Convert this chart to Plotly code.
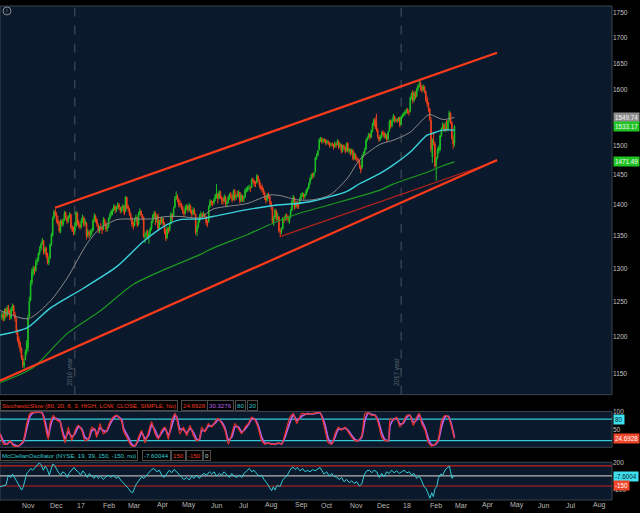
import math
import plotly.graph_objects as go

# ---------------- price data (daily, index 0 = first bar) ----------------
opens = [
    # Oct 2016
    1228, 1233, 1225, 1239, 1231, 1242, 1237, 1227, 1241, 1245, 1232, 1225, 1207, 1197,
    # Nov
    1191, 1184, 1171, 1161, 1170, 1181, 1185, 1230, 1253, 1279, 1294, 1299, 1297, 1311, 1313, 1323, 1331, 1338, 1342, 1326, 1331,
    # Dec
    1321, 1309, 1316, 1337, 1351, 1379, 1389, 1384, 1375, 1371, 1357, 1373, 1368, 1375, 1387, 1379, 1374, 1381, 1384, 1363, 1361,
    # Jan 2017
    1358, 1366, 1386, 1372, 1367, 1365, 1375, 1379, 1369, 1370, 1351, 1356, 1353, 1355, 1359, 1375, 1381, 1376, 1368, 1361,
    # Feb
    1364, 1362, 1361, 1375, 1370, 1362, 1365, 1378, 1385, 1388, 1392, 1397, 1391, 1396, 1400, 1395, 1390, 1395, 1397,
    # Mar
    1390, 1412, 1397, 1393, 1385, 1377, 1370, 1367, 1376, 1379, 1369, 1386, 1389, 1382, 1379, 1349, 1352, 1356, 1350, 1355, 1362, 1373, 1381,
    # Apr
    1387, 1375, 1382, 1363, 1374, 1371, 1377, 1369, 1358, 1348, 1361, 1360, 1370, 1384, 1382, 1396, 1411, 1413, 1407,
    # May
    1401, 1401, 1396, 1389, 1387, 1395, 1398, 1391, 1398, 1389, 1386, 1391, 1384, 1357, 1365, 1374, 1382, 1384, 1384, 1383, 1381, 1372,
    # Jun
    1373, 1398, 1405, 1403, 1403, 1409, 1417, 1417, 1411, 1420, 1412, 1409, 1407, 1412, 1402, 1405, 1411, 1417, 1414, 1409, 1423, 1412,
    # Jul
    1417, 1415, 1420, 1407, 1414, 1409, 1413, 1425, 1424, 1429, 1428, 1429, 1442, 1439, 1436, 1437, 1447, 1440, 1431, 1430,
    # Aug
    1426, 1420, 1412, 1408, 1414, 1413, 1403, 1395, 1373, 1380, 1390, 1379, 1380, 1357, 1358, 1362, 1377, 1378, 1382, 1379, 1372, 1380, 1391,
    # Sep
    1406, 1411, 1397, 1404, 1399, 1402, 1410, 1418, 1417, 1414, 1417, 1424, 1428, 1436, 1444, 1451, 1449, 1455, 1479, 1484,
    # Oct
    1493, 1511, 1512, 1508, 1509, 1510, 1505, 1506, 1504, 1501, 1503, 1501, 1498, 1503, 1502, 1507, 1498, 1501, 1491, 1499, 1496, 1491,
    # Nov
    1503, 1490, 1492, 1487, 1491, 1478, 1484, 1477, 1476, 1473, 1463, 1462, 1482, 1487, 1494, 1510, 1514, 1520, 1515, 1526, 1538,
    # Dec
    1546, 1540, 1527, 1515, 1511, 1515, 1523, 1521, 1516, 1518, 1511, 1526, 1543, 1535, 1545, 1551, 1544, 1546, 1545, 1549,
    # Jan 2018
    1537, 1551, 1554, 1557, 1561, 1564, 1560, 1561, 1586, 1595, 1581, 1595, 1589, 1602, 1610, 1612, 1605, 1601, 1606, 1597, 1583,
    # Feb
    1576, 1565, 1544, 1480, 1508, 1502, 1466, 1479, 1491, 1494, 1518, 1531, 1536, 1529, 1531, 1528, 1544, 1557, 1540,
    # Mar
    1511, 1504,
]
highs = [
    1236, 1237, 1241, 1242, 1245, 1246, 1239, 1243, 1248, 1246, 1236, 1228, 1211, 1201,
    1194, 1186, 1175, 1170, 1183, 1196, 1232, 1258, 1282, 1300, 1304, 1303, 1314, 1317, 1325, 1334, 1340, 1347, 1344, 1334, 1333,
    1324, 1318, 1339, 1355, 1381, 1392, 1393, 1388, 1382, 1374, 1376, 1377, 1378, 1390, 1389, 1382, 1383, 1388, 1386, 1367, 1365,
    1372, 1390, 1388, 1375, 1370, 1378, 1384, 1381, 1377, 1372, 1361, 1359, 1360, 1362, 1377, 1386, 1384, 1378, 1370, 1366,
    1370, 1365, 1380, 1378, 1372, 1368, 1380, 1387, 1392, 1394, 1401, 1399, 1398, 1404, 1403, 1397, 1397, 1401, 1399,
    1414, 1413, 1400, 1395, 1388, 1380, 1373, 1379, 1384, 1381, 1388, 1394, 1391, 1385, 1381, 1356, 1359, 1360, 1358, 1364, 1375, 1385, 1390,
    1389, 1384, 1386, 1376, 1379, 1381, 1379, 1372, 1361, 1365, 1364, 1371, 1388, 1386, 1397, 1414, 1422, 1417, 1410,
    1407, 1403, 1399, 1393, 1399, 1401, 1400, 1403, 1400, 1392, 1396, 1394, 1386, 1368, 1377, 1385, 1389, 1387, 1389, 1386, 1382, 1375,
    1399, 1409, 1408, 1406, 1411, 1418, 1434, 1419, 1424, 1423, 1414, 1412, 1417, 1415, 1407, 1415, 1419, 1421, 1417, 1425, 1426, 1418,
    1423, 1424, 1421, 1418, 1416, 1415, 1427, 1429, 1431, 1433, 1430, 1444, 1445, 1441, 1439, 1451, 1449, 1442, 1436, 1433,
    1428, 1422, 1415, 1419, 1420, 1416, 1406, 1397, 1382, 1394, 1392, 1387, 1382, 1362, 1364, 1380, 1381, 1385, 1386, 1383, 1382, 1393, 1408,
    1416, 1413, 1406, 1406, 1403, 1412, 1419, 1421, 1419, 1419, 1426, 1429, 1437, 1446, 1452, 1453, 1455, 1480, 1486, 1492,
    1513, 1515, 1514, 1513, 1512, 1511, 1510, 1509, 1506, 1505, 1505, 1503, 1507, 1505, 1511, 1509, 1505, 1503, 1501, 1502, 1498, 1505,
    1506, 1496, 1494, 1495, 1493, 1488, 1486, 1481, 1478, 1475, 1466, 1484, 1489, 1496, 1512, 1516, 1522, 1521, 1528, 1540, 1548,
    1550, 1556, 1530, 1518, 1518, 1525, 1527, 1524, 1522, 1520, 1526, 1546, 1545, 1548, 1556, 1553, 1549, 1548, 1551, 1551,
    1553, 1557, 1559, 1563, 1566, 1567, 1563, 1588, 1596, 1600, 1597, 1598, 1604, 1611, 1618, 1616, 1609, 1610, 1608, 1599, 1588,
    1578, 1567, 1550, 1512, 1524, 1506, 1480, 1496, 1500, 1519, 1532, 1541, 1539, 1541, 1545, 1545, 1562, 1559, 1543,
    1518, 1536,
]
lows = [
    1224, 1222, 1223, 1227, 1229, 1233, 1224, 1225, 1237, 1230, 1222, 1204, 1193, 1186,
    1179, 1169, 1158, 1157, 1168, 1176, 1180, 1228, 1251, 1275, 1288, 1291, 1295, 1305, 1310, 1320, 1327, 1336, 1321, 1322, 1316,
    1306, 1305, 1314, 1334, 1349, 1376, 1381, 1370, 1366, 1355, 1354, 1365, 1365, 1373, 1376, 1369, 1371, 1378, 1361, 1356, 1351,
    1352, 1364, 1367, 1363, 1360, 1362, 1371, 1364, 1366, 1345, 1348, 1346, 1348, 1351, 1357, 1372, 1371, 1365, 1355, 1354,
    1358, 1353, 1359, 1367, 1356, 1357, 1363, 1375, 1381, 1383, 1389, 1386, 1388, 1393, 1391, 1386, 1387, 1390, 1383,
    1388, 1393, 1389, 1382, 1374, 1364, 1360, 1365, 1373, 1364, 1366, 1383, 1380, 1375, 1347, 1339, 1347, 1345, 1338, 1351, 1359, 1370, 1378,
    1367, 1371, 1359, 1360, 1368, 1368, 1366, 1353, 1342, 1345, 1354, 1357, 1368, 1374, 1380, 1394, 1408, 1404, 1396,
    1395, 1392, 1385, 1380, 1384, 1391, 1387, 1389, 1386, 1380, 1383, 1383, 1352, 1350, 1362, 1371, 1379, 1378, 1380, 1377, 1367, 1364,
    1371, 1395, 1399, 1397, 1400, 1406, 1410, 1402, 1409, 1409, 1401, 1400, 1404, 1398, 1396, 1402, 1408, 1410, 1404, 1407, 1406, 1408,
    1413, 1411, 1402, 1404, 1405, 1404, 1411, 1420, 1421, 1424, 1421, 1427, 1435, 1430, 1429, 1435, 1437, 1427, 1424, 1420,
    1416, 1408, 1402, 1405, 1410, 1400, 1392, 1369, 1366, 1377, 1374, 1375, 1355, 1349, 1353, 1360, 1371, 1374, 1375, 1372, 1369, 1378, 1389,
    1403, 1392, 1394, 1394, 1393, 1400, 1407, 1413, 1409, 1410, 1415, 1420, 1425, 1433, 1441, 1443, 1445, 1453, 1475, 1481,
    1491, 1506, 1503, 1504, 1505, 1500, 1502, 1501, 1496, 1498, 1498, 1493, 1496, 1496, 1500, 1493, 1495, 1486, 1488, 1493, 1486, 1489,
    1488, 1486, 1482, 1484, 1474, 1475, 1474, 1472, 1469, 1460, 1452, 1460, 1479, 1484, 1492, 1507, 1512, 1510, 1513, 1523, 1535,
    1529, 1524, 1512, 1506, 1508, 1512, 1517, 1512, 1512, 1506, 1509, 1524, 1530, 1532, 1542, 1540, 1541, 1540, 1542, 1532,
    1535, 1548, 1551, 1553, 1557, 1556, 1553, 1559, 1582, 1575, 1578, 1583, 1586, 1598, 1605, 1598, 1595, 1597, 1594, 1578, 1570,
    1560, 1543, 1488, 1470, 1500, 1462, 1440, 1476, 1486, 1490, 1515, 1528, 1524, 1524, 1525, 1526, 1542, 1538, 1510,
    1494, 1498,
]
closes = [
    1232, 1226, 1238, 1230, 1241, 1236, 1228, 1240, 1244, 1233, 1226, 1208, 1196, 1190,
    1183, 1172, 1162, 1165, 1180, 1192, 1228, 1252, 1278, 1295, 1300, 1298, 1310, 1312, 1322, 1330, 1337, 1343, 1325, 1330, 1320,
    1310, 1314, 1336, 1352, 1378, 1388, 1385, 1374, 1370, 1358, 1372, 1369, 1374, 1386, 1380, 1373, 1380, 1383, 1364, 1360, 1356,
    1365, 1387, 1371, 1368, 1364, 1374, 1380, 1368, 1372, 1350, 1357, 1352, 1354, 1358, 1374, 1382, 1375, 1369, 1360, 1362,
    1363, 1360, 1376, 1371, 1361, 1364, 1377, 1384, 1389, 1391, 1398, 1392, 1395, 1401, 1396, 1391, 1394, 1398, 1386,
    1413, 1396, 1394, 1386, 1378, 1369, 1366, 1375, 1380, 1368, 1385, 1390, 1383, 1378, 1350, 1351, 1355, 1353, 1354, 1361, 1372, 1382, 1386,
    1376, 1381, 1362, 1373, 1372, 1378, 1370, 1357, 1346, 1362, 1359, 1368, 1385, 1379, 1394, 1410, 1414, 1408, 1400,
    1400, 1397, 1390, 1386, 1396, 1397, 1392, 1399, 1390, 1385, 1392, 1387, 1356, 1364, 1373, 1381, 1385, 1383, 1384, 1382, 1371, 1370,
    1397, 1406, 1404, 1402, 1408, 1415, 1418, 1410, 1421, 1413, 1408, 1406, 1413, 1401, 1404, 1412, 1416, 1415, 1408, 1422, 1411, 1415,
    1416, 1421, 1406, 1415, 1410, 1411, 1424, 1425, 1428, 1429, 1428, 1441, 1440, 1435, 1434, 1448, 1441, 1432, 1429, 1425,
    1421, 1413, 1407, 1415, 1414, 1404, 1397, 1372, 1378, 1391, 1378, 1381, 1358, 1357, 1360, 1378, 1377, 1381, 1380, 1378, 1379, 1390, 1405,
    1413, 1396, 1403, 1398, 1397, 1409, 1417, 1418, 1413, 1416, 1423, 1427, 1435, 1443, 1450, 1448, 1452, 1478, 1483, 1490,
    1510, 1511, 1507, 1510, 1509, 1504, 1507, 1505, 1500, 1502, 1502, 1497, 1504, 1501, 1508, 1497, 1502, 1490, 1498, 1497, 1490, 1502,
    1491, 1493, 1486, 1492, 1477, 1485, 1478, 1477, 1474, 1464, 1458, 1481, 1486, 1493, 1509, 1513, 1519, 1514, 1525, 1537, 1545,
    1533, 1528, 1516, 1510, 1514, 1522, 1520, 1515, 1517, 1510, 1523, 1542, 1534, 1544, 1552, 1543, 1545, 1544, 1548, 1535,
    1550, 1553, 1556, 1560, 1563, 1561, 1559, 1585, 1592, 1580, 1594, 1588, 1601, 1608, 1610, 1604, 1600, 1607, 1598, 1582, 1575,
    1566, 1547, 1494, 1510, 1503, 1464, 1477, 1492, 1496, 1517, 1530, 1537, 1528, 1530, 1527, 1543, 1558, 1539, 1512,
    1503, 1533.17,
]

# ---------------- moving averages (read at sample points) ----------------
ma_gray_x = [-1.5, 20, 36.9, 50, 65.4, 75.4, 88.5, 100.8, 113.8, 126.9, 137, 152.3, 162.3, 188.5,
             206.2, 213.8, 227, 239.2, 252.3, 265.4, 275.4, 290.8, 300.8, 313.8, 326.9, 329.2, 339.2, 348]
ma_gray_y = [1238, 1226, 1251, 1285, 1338, 1362, 1376, 1377, 1377, 1381, 1381, 1379, 1393, 1402,
             1416, 1415, 1408, 1408, 1416, 1443, 1476, 1502, 1509, 1523, 1553, 1555, 1546, 1549.74]
ma_cyan_x = [-1.5, 19.2, 36.9, 62.3, 88.5, 108.5, 126.9, 137, 152.3, 162.3, 188.5, 206.2, 213.8, 227,
             239.2, 265.4, 275.4, 290.8, 300.8, 313.8, 326.9, 330.8, 339.2, 348]
ma_cyan_y = [1203, 1213, 1241, 1270, 1303, 1341, 1368, 1376, 1377, 1381, 1392, 1398, 1400, 1402,
             1406, 1422, 1435, 1452, 1466, 1488, 1518, 1521, 1527, 1527]
ma_green_x = [-1.5, 23.8, 50, 75.4, 100.8, 126.9, 152.3, 162.3, 188.5, 211.5, 227, 252.3, 265.4,
              290.8, 300.8, 326.9, 339.2, 348]
ma_green_y = [1138, 1158, 1205, 1237, 1276, 1300, 1321, 1331, 1352, 1373, 1385, 1400, 1408,
              1424, 1434, 1454, 1465, 1471.49]

# ---------------- trend lines (end points) ----------------
chan_upper_x = [40.8, 380.8]
chan_upper_y = [1395, 1671]
chan_lower_x = [-1.54, 380.8]
chan_lower_y = [1140.7, 1474.8]
trend_thin_x = [213.8, 380.8]
trend_thin_y = [1349, 1473]

# ---------------- StochasticSlow ----------------
stoch_x = [-1.5, 1, 3.6, 6.2, 8.7, 12.6, 16.4, 19, 21.5, 24.1,
           30.5, 31.8, 34.4, 35.6, 36.9, 39.5, 42.1, 44.6, 45.9, 48.5,
           51, 53.6, 56.2, 58.7, 61.3, 63.8, 66.4, 69, 71.5, 72.8,
           75.4, 77.9, 80.5, 83.1, 85.6, 88.2, 92.1, 93.3, 97.2, 99.7,
           102.3, 104.9, 107.4, 110, 112.6, 115.1, 117.7, 120.3, 122.8, 125.4,
           128, 130.5, 133.1, 134.4, 136.9, 139.5, 142.1, 144.6, 147.2, 149.7,
           151.8, 153.6, 156.2, 158.7, 161.3, 163.8, 166.4, 169, 171.5, 174.1,
           176.7, 179.2, 181.8, 184.4, 186.9, 189.5, 192.1, 194.6, 197.2, 199.7,
           202.3, 204.9, 207.4, 210, 212.6, 215.1, 217.7, 221.5, 224.1, 226.7,
           230.5, 234.4, 239.5, 244.6, 248.5, 251, 253.6, 256.1, 258.7, 261.3,
           263.8, 266.4, 269, 271.5, 274.1, 276.7, 279.2, 281.8, 284.4, 286.9,
           289.5, 292.1, 294.6, 297.2, 298.5, 301, 303.6, 306.1, 308.7, 311.3,
           313.8, 316.4, 319, 321, 322.8, 325.4, 327.9, 330.5, 333.1, 335.6,
           338.2, 340.8, 343.3, 345.1, 348]
stoch_k = [39, 10, 10, 20, 5, 5, 20, 68, 96, 99,
           99, 86, 39, 24, 68, 91, 77, 73, 49, 14,
           58, 20, 49, 63, 49, 20, 24, 58, 49, 29,
           68, 39, 49, 73, 86, 91, 73, 49, 20, 5,
           5, 29, 49, 14, 44, 73, 39, 24, 49, 58,
           24, 77, 96, 82, 39, 58, 34, 63, 34, 20,
           24, 58, 44, 68, 58, 73, 82, 68, 49, 10,
           39, 68, 54, 39, 58, 68, 86, 77, 54, 20,
           10, 14, 10, 10, 14, 10, 39, 86, 96, 68,
           96, 94, 96, 99, 49, 14, 10, 39, 58, 49,
           58, 44, 29, 20, 20, 34, 96, 97, 91, 91,
           68, 29, 20, 20, 82, 77, 86, 58, 73, 91,
           91, 63, 86, 96, 68, 49, 14, 5, 10, 24,
           77, 91, 86, 68, 24.6928]
stoch_d = [39, 19, 10, 17, 10, 5, 16, 54, 88, 98,
           99, 90, 53, 29, 55, 84, 81, 74, 56, 25,
           45, 31, 40, 59, 53, 29, 23, 48, 52, 35,
           56, 48, 46, 66, 82, 90, 78, 56, 29, 10,
           5, 22, 43, 25, 35, 64, 49, 29, 42, 55,
           34, 61, 90, 86, 52, 52, 41, 54, 43, 24,
           23, 48, 48, 61, 61, 69, 79, 72, 55, 22,
           30, 59, 58, 44, 52, 65, 81, 80, 61, 30,
           13, 13, 11, 10, 13, 11, 30, 72, 93, 76,
           88, 95, 95, 98, 64, 25, 11, 30, 52, 52,
           55, 48, 34, 23, 20, 30, 77, 97, 93, 91,
           75, 41, 23, 20, 63, 79, 83, 66, 69, 86,
           91, 71, 79, 93, 76, 55, 25, 8, 9, 20,
           61, 87, 88, 73, 30.3276]

# ---------------- McClellan Oscillator ----------------
mc_x = [-1.5, 1, 3.1, 4.9, 6.7, 8.2, 10, 11.8, 13.3, 15.1,
        16.4, 17.7, 19, 20.3, 22.1, 23.6, 25.4, 27.2, 28.7, 30.3,
        31.8, 33.3, 34.9, 36.4, 37.7, 39, 40.3, 42.1, 43.6, 45.1,
        46.7, 48.5, 50.3, 51.8, 53.6, 55.4, 56.9, 58.7, 60.5, 62.1,
        63.8, 65.6, 67.2, 69, 70.8, 72.3, 74.1, 75.9, 77.9, 80,
        81.8, 83.6, 85.6, 87.7, 89.5, 91.3, 93.3, 95.4, 97.2, 99,
        100.5, 102.1, 103.6, 105.6, 107.4, 109.2, 111.3, 113.3, 115.1, 116.9,
        119, 121, 122.8, 124.6, 126.7, 128.7, 130.5, 132.3, 134.4, 136.4,
        138.2, 140, 142.1, 144.1, 145.9, 147.7, 149.7, 151.8, 153.6, 155.4,
        157.4, 159.5, 161.3, 163.1, 165.1, 167.2, 169, 170.8, 172.8, 174.9,
        176.7, 178.5, 180.5, 182.6, 184.4, 186.2, 188.2, 190.3, 192.1, 193.8,
        195.9, 197.9, 199.7, 201.5, 203.6, 205.6, 207.4, 208.7, 210, 211.8,
        213.8, 215.9, 217.7, 219.5, 221.5, 223.6, 225.4, 227.2, 229.2, 231.3,
        233.1, 234.9, 236.9, 239, 240.8, 242.6, 244.6, 245.9, 247.7, 249.7,
        251.8, 253.6, 255.4, 257.4, 259.5, 261.3, 263.1, 265.1, 267.2, 269,
        270.8, 272.8, 274.9, 276.7, 278.5, 280.5, 282.5, 284.4, 286.1, 288.2,
        290.2, 292, 293.8, 295.9, 297.9, 299.7, 301.5, 303.6, 305.6, 307.4,
        309.2, 311.3, 313.3, 315.1, 316.9, 319, 321, 322.8, 324.6, 326.1,
        327.9, 329.2, 330.5, 331.8, 333.1, 334.4, 335.6, 337.4, 339, 340.8,
        342.6, 344.1, 345.1, 346.1, 347.2, 348]
mc_v = [-161, -151, -136, 12, -23, 27, -37, -87, -136, -211,
        -161, -37, 37, 62, 111, 86, 126, 161, 196, 161,
        86, 146, 96, 12, 96, 176, 161, 86, 47, 12,
        62, 37, -23, 47, 86, 126, 86, 62, 12, 76,
        37, -23, 37, -3, -37, 12, -37, -3, -52, -13,
        12, -23, 12, -37, -13, -62, -102, -136, -186, -236,
        -251, -171, -112, -62, -13, -37, 12, 47, 96, 111,
        62, 86, 12, -23, 37, 86, 47, 96, 62, 12,
        -23, -52, -23, -62, -3, -37, 12, -37, 12, 37,
        12, 62, 27, 62, -3, 37, 12, 62, 12, -23,
        37, -3, -23, 12, -23, 37, 76, 111, 62, 86,
        37, -3, 12, -52, -102, -161, -221, -161, -211, -136,
        -161, -62, -23, 12, 86, 136, 96, 126, 76, 111,
        62, 86, 62, 96, 76, 106, 126, 86, 27, 62,
        -3, 37, -3, -23, -52, -23, -87, -52, -102, -72,
        -112, -87, -151, -122, 12, 76, 86, 47, 86, 62,
        -23, 37, -13, 62, 37, 86, 47, 76, 37, 62,
        86, 47, 62, 12, 37, -37, -3, -72, -161, -186,
        -285, -334, -251, -310, -186, -161, -37, 27, 12, 86,
        126, 146, 62, -37, -3, -7.60044]

# ---------------- axis labels ----------------
price_ticks = [1150, 1200, 1250, 1300, 1350, 1400, 1450, 1500, 1550, 1600, 1650, 1700, 1750]
price_tick_hidden = [1550]
month_labels = ["Nov", "Dec", "17", "Feb", "Mar", "Apr", "May", "Jun", "Jul", "Aug", "Sep",
                "Oct", "Nov", "Dec", "18", "Feb", "Mar", "Apr", "May", "Jun", "Jul", "Aug"]
month_idx = [14, 35, 56, 76, 95, 118, 137, 159, 181, 201, 224,
             244, 266, 287, 307, 328, 347, 368, 389, 411, 432, 453]
year_idx = [56, 307]
year_labels = ["2016 year", "2017 year"]

# ---------------- style ----------------
FONT = "Liberation Sans, Arial, sans-serif"
NAVY = "#0a192b"
BORDER = "#3b444f"
TICK = "#c4c4c4"
UP = "#1fbf24"
DN = "#f0401c"
RED = "#ee3b22"
CYAN = "#34cbd6"
PURPLE = "#b562e6"

# paper fractions (plot area is 612 x 500 px)
def py(pix):
    return (500 - pix) / 500.0

MAIN_DOM = [py(394), py(3)]
STO_DOM = [py(447), py(411)]
MC_DOM = [py(500), py(462)]

fig = go.Figure()

fig.add_trace(go.Candlestick(
    x=list(range(len(closes))), open=opens, high=highs, low=lows, close=closes,
    xaxis="x", yaxis="y", whiskerwidth=0,
    increasing=dict(line=dict(color=UP, width=1), fillcolor=UP),
    decreasing=dict(line=dict(color=DN, width=1), fillcolor=DN),
    showlegend=False, hoverinfo="skip"))

for xs, ys, col, w in [(ma_green_x, ma_green_y, "#1c9a22", 1.2),
                       (ma_gray_x, ma_gray_y, "#8c8c8c", 1.0),
                       (ma_cyan_x, ma_cyan_y, "#3ad2dc", 1.4)]:
    fig.add_trace(go.Scatter(x=xs, y=ys, mode="lines", xaxis="x", yaxis="y",
                             line=dict(color=col, width=w, shape="spline", smoothing=0.7),
                             hoverinfo="skip", showlegend=False))

fig.add_trace(go.Scatter(x=trend_thin_x, y=trend_thin_y, mode="lines", xaxis="x", yaxis="y",
                         line=dict(color="#b8241c", width=1.1), hoverinfo="skip", showlegend=False))
for xs, ys in [(chan_upper_x, chan_upper_y), (chan_lower_x, chan_lower_y)]:
    fig.add_trace(go.Scatter(x=xs, y=ys, mode="lines", xaxis="x", yaxis="y",
                             line=dict(color="#ff3b1c", width=2.2), hoverinfo="skip", showlegend=False))

fig.add_trace(go.Scatter(x=stoch_x, y=stoch_d, mode="lines", xaxis="x", yaxis="y2",
                         line=dict(color=PURPLE, width=1.8, shape="spline", smoothing=0.5),
                         hoverinfo="skip", showlegend=False))
fig.add_trace(go.Scatter(x=stoch_x, y=stoch_k, mode="lines", xaxis="x", yaxis="y2",
                         line=dict(color="#e8322a", width=1.2, shape="spline", smoothing=0.5),
                         hoverinfo="skip", showlegend=False))

fig.add_trace(go.Scatter(x=mc_x, y=mc_v, mode="lines", xaxis="x", yaxis="y3",
                         line=dict(color=CYAN, width=1.0), hoverinfo="skip", showlegend=False))

shapes = []
for dom in (MAIN_DOM, STO_DOM, MC_DOM):
    shapes.append(dict(type="rect", xref="paper", yref="paper", x0=0, x1=1, y0=dom[0], y1=dom[1],
                       line=dict(color=BORDER, width=1), fillcolor=NAVY, layer="below"))
for yi in year_idx:
    shapes.append(dict(type="line", xref="x", yref="paper", x0=yi, x1=yi, y0=MAIN_DOM[0], y1=MAIN_DOM[1],
                       line=dict(color="#4a535e", width=1, dash="dash"), layer="below"))
for lvl in (80, 20):
    shapes.append(dict(type="line", xref="paper", yref="y2", x0=0, x1=1, y0=lvl, y1=lvl,
                       line=dict(color=CYAN, width=1.2), layer="below"))
for lvl, col in ((150, "#c8201c"), (-150, "#c8201c"), (0, "#b4b4b4")):
    shapes.append(dict(type="line", xref="paper", yref="y3", x0=0, x1=1, y0=lvl, y1=lvl,
                       line=dict(color=col, width=1.2), layer="below"))
# info icon circle
shapes.append(dict(type="circle", xref="paper", yref="paper", x0=3 / 612, x1=11 / 612, y0=py(12), y1=py(4),
                   line=dict(color="#8a8a8a", width=1)))

ann = []
# x labels
for lab, ix in zip(month_labels, month_idx):
    ann.append(dict(xref="x", yref="paper", x=ix, y=py(505.5), text=lab, xanchor="left", yanchor="middle",
                    showarrow=False, font=dict(family=FONT, size=7, color="#b8b8b8")))
# year labels
for lab, ix in zip(year_labels, year_idx):
    ann.append(dict(xref="x", yref="paper", x=ix - 3.3, y=py(371.5), text=lab, textangle=-90,
                    xanchor="center", yanchor="middle", showarrow=False,
                    font=dict(family=FONT, size=6.3, color="#56616d")))
ann.append(dict(xref="paper", yref="paper", x=7 / 612, y=py(8), text="!", showarrow=False,
                font=dict(family=FONT, size=6, color="#8a8a8a"), xanchor="center", yanchor="middle"))

def box(yref, yval, text, bg, fg):
    return dict(xref="paper", yref=yref, x=1.0, xshift=1, y=yval, text=text, xanchor="left",
                yanchor="middle", showarrow=False, bgcolor=bg, borderpad=1,
                font=dict(family=FONT, size=6.3, color=fg))

ann.append(box("y", math.log10(ma_gray_y[-1]), "1549.74", "#8e8e8e", "#f4f4f4"))
ann.append(box("y", math.log10(closes[-1]), "1533.17", "#20c424", "#f4f4f4"))
ann.append(box("y", math.log10(ma_green_y[-1]), "1471.49", "#20c424", "#f4f4f4"))
ann.append(box("y2", 80, "80", "#3ee0ee", "#0a192b"))
ann.append(box("y2", stoch_k[-1], "24.6928", "#f2462a", "#ffffff"))
ann.append(box("y3", mc_v[-1], "-7.6004", "#3ee0ee", "#0a192b"))
ann.append(box("y3", -150, "-150", "#f2462a", "#ffffff"))

def cells(ycenter, items):
    out = []
    for text, px, col in items:
        out.append(dict(xref="paper", yref="paper", x=px / 612, y=py(ycenter), text=text,
                        xanchor="left", yanchor="middle", showarrow=False, bgcolor="#000000",
                        bordercolor="#4d4d4d", borderwidth=1, borderpad=1,
                        font=dict(family=FONT, size=6.1, color=col)))
    return out

ann += cells(404.5, [("StochasticSlow (80, 20, 8, 3, HIGH, LOW, CLOSE, SIMPLE, No)", 0, RED),
                     ("24.6928", 181, RED), ("30.3276", 207, PURPLE),
                     ("80", 235, CYAN), ("20", 247, CYAN)])
ann += cells(455.5, [("McClellanOscillator (NYSE, 19, 39, 150, -150, no)", 0, CYAN),
                     ("-7.60044", 142, CYAN), ("150", 171, RED),
                     ("-150", 186, RED), ("0", 203, "#d8d8d8")])

axfont = dict(family=FONT, size=6.5, color=TICK)
fig.update_layout(
    width=640, height=513, margin=dict(l=0, r=28, t=0, b=13, pad=0),
    paper_bgcolor="#000000", plot_bgcolor=NAVY, showlegend=False,
    xaxis=dict(domain=[0, 1], range=[-1.54, 469.2], anchor="y3", showticklabels=False, showgrid=False,
               zeroline=False, showline=False, ticks="", rangeslider=dict(visible=False), fixedrange=True),
    yaxis=dict(domain=MAIN_DOM, type="log", range=[math.log10(1122.4), math.log10(1764.3)], side="right",
               anchor="x", tickmode="array", tickvals=[t for t in price_ticks if t not in price_tick_hidden],
               ticktext=[str(t) for t in price_ticks if t not in price_tick_hidden],
               showgrid=False, zeroline=False, showline=False, ticks="", tickfont=axfont),
    yaxis2=dict(domain=STO_DOM, range=[1.4, 101.4], side="right", anchor="x", tickmode="array",
                tickvals=[50, 100], ticktext=["50", "100"], showgrid=False, zeroline=False, ticks="",
                tickfont=axfont),
    yaxis3=dict(domain=MC_DOM, range=[-359.6, 205], side="right", anchor="x", tickmode="array",
                tickvals=[-200, 200], ticktext=["-200", "200"], showgrid=False, zeroline=False, ticks="",
                tickfont=axfont),
    shapes=shapes, annotations=ann,
)

fig.write_html("out.html", config={"displayModeBar": False, "staticPlot": True},
               post_script="document.body.style.margin='0';document.body.style.padding='0';"
                           "document.body.style.background='#000';")
